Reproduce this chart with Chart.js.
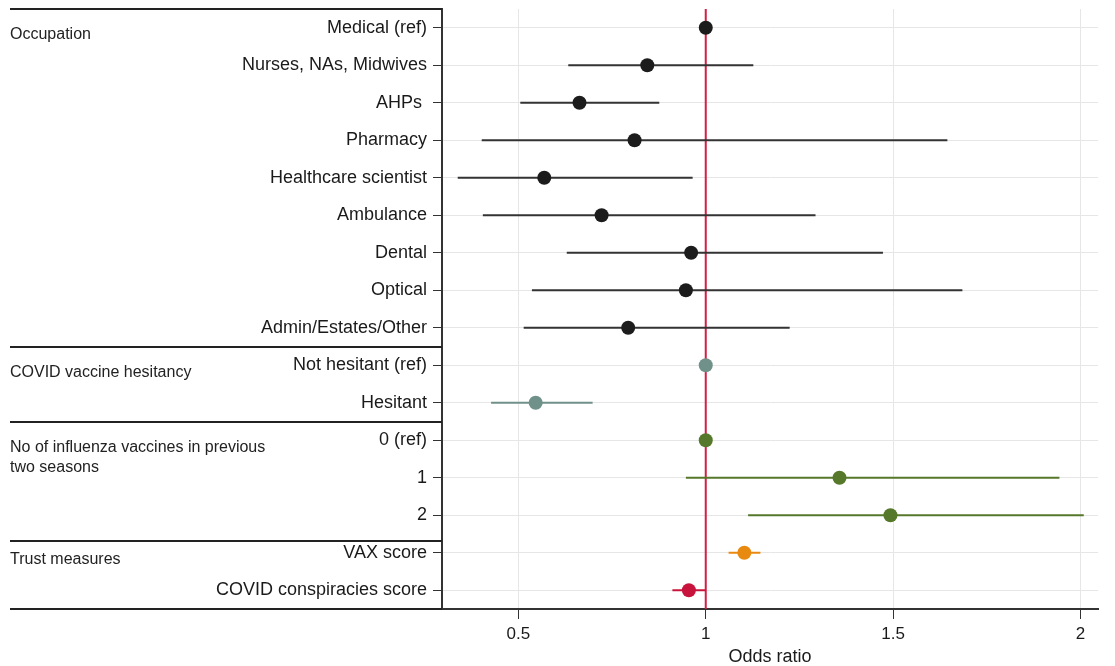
<!DOCTYPE html>
<html>
<head>
<meta charset="utf-8">
<script src="https://cdn.jsdelivr.net/npm/chart.js@4.4.1/dist/chart.umd.min.js"></script>
<style>
    body { margin: 0; background: #fff; }
    #wrap { width: 1115px; height: 666px; position: relative; }
</style>
</head>
<body>
<div id="wrap"><canvas id="myChart"></canvas></div>
<script>
// Filas del gráfico (de arriba hacia abajo)
const rowLabels = [
    'Medical (ref)', 'Nurses, NAs, Midwives', 'AHPs ', 'Pharmacy', 'Healthcare scientist',
    'Ambulance', 'Dental', 'Optical', 'Admin/Estates/Other',
    'Not hesitant (ref)', 'Hesitant',
    '0 (ref)', '1', '2',
    'VAX score', 'COVID conspiracies score'
];
const oddsRatio = [1, 0.844, 0.663, 0.81, 0.569, 0.722, 0.961, 0.947, 0.793, 1, 0.546, 1, 1.357, 1.493, 1.103, 0.955];
const ciLow = [null, 0.633, 0.505, 0.402, 0.338, 0.405, 0.629, 0.536, 0.514, null, 0.427, null, 0.947, 1.113, 1.061, 0.911];
const ciHigh = [null, 1.127, 0.876, 1.645, 0.965, 1.293, 1.473, 1.685, 1.224, null, 0.698, null, 1.944, 2.009, 1.146, 1.0];
const rowSeries = ['occ', 'occ', 'occ', 'occ', 'occ', 'occ', 'occ', 'occ', 'occ', 'hes', 'hes', 'flu', 'flu', 'flu', 'vax', 'consp'];
const xTicks = [0.5, 1, 1.5, 2];
const refValue = 1;

// Grupos de la columna izquierda
const groupTitles = [
    ['Occupation'],
    ['COVID vaccine hesitancy'],
    ['No of influenza vaccines in previous', 'two seasons'],
    ['Trust measures']
];
const groupFirstRow = [0, 9, 11, 14];

// Estilos
const seriesColor = { occ: '#1c1c1c', hes: '#6f9189', flu: '#56782a', vax: '#e98a10', consp: '#c8143c' };
const lineColor = { occ: '#333333', hes: '#6f9189', flu: '#56782a', vax: '#e98a10', consp: '#c8143c' };
const FONT = "'Liberation Sans', Arial, Helvetica, sans-serif";
const separatorValues = [-0.5, 8.5, 10.5, 13.68, 15.5];

const datasets = [];
Object.keys(seriesColor).forEach(key => {
    const ciData = [];
    const ptData = [];
    rowLabels.forEach((_, i) => {
        if (rowSeries[i] !== key) return;
        ptData.push({ x: oddsRatio[i], y: i });
        if (ciLow[i] !== null) {
            ciData.push({ x: ciLow[i], y: i }, { x: ciHigh[i], y: i }, { x: null, y: null });
        }
    });
    datasets.push({
        data: ciData, showLine: true, spanGaps: false, borderColor: lineColor[key],
        borderWidth: 2, pointRadius: 0, order: 2
    });
    datasets.push({
        data: ptData, showLine: false, pointRadius: 7, pointBorderWidth: 0,
        pointBackgroundColor: seriesColor[key], order: 0
    });
});

// Línea de referencia en OR = 1
datasets.push({
    data: [{ x: refValue, y: -0.5 }, { x: refValue, y: rowLabels.length - 0.5 }],
    showLine: true, borderColor: '#d21f45', borderWidth: 2, pointRadius: 0, order: 3
});

// Separadores y títulos de grupo
const groupsPlugin = {
    id: 'groups',
    afterDraw(chart) {
        const ctx = chart.ctx;
        const y = chart.scales.y;
        const left = chart.chartArea.left;
        ctx.save();
        ctx.strokeStyle = '#222';
        ctx.lineWidth = 2;
        separatorValues.forEach(v => {
            const py = Math.round(y.getPixelForValue(v));
            ctx.beginPath();
            ctx.moveTo(10, py);
            ctx.lineTo(left, py);
            ctx.stroke();
        });
        ctx.fillStyle = '#222';
        ctx.font = '16px ' + FONT;
        ctx.textAlign = 'left';
        ctx.textBaseline = 'middle';
        groupTitles.forEach((lines, g) => {
            const py = y.getPixelForValue(groupFirstRow[g]) + 7;
            lines.forEach((t, k) => ctx.fillText(t, 10, py + k * 20));
        });
        ctx.restore();
    }
};

const ctx = document.getElementById('myChart').getContext('2d');
new Chart(ctx, {
    type: 'scatter',
    data: { datasets: datasets },
    plugins: [groupsPlugin],
    options: {
        responsive: true,
        maintainAspectRatio: false,
        animation: false,
        events: [],
        layout: { padding: { top: 9, right: 17, bottom: 0, left: 0 } },
        plugins: { legend: { display: false }, tooltip: { enabled: false } },
        scales: {
            x: {
                type: 'linear',
                min: 0.296,
                max: 2.047,
                afterBuildTicks: s => { s.ticks = xTicks.map(v => ({ value: v })); },
                afterFit: s => { s.height = 57; s.paddingLeft = 0; s.paddingRight = 0; },
                ticks: {
                    callback: v => String(v),
                    font: { family: FONT, size: 17 },
                    color: '#1a1a1a',
                    padding: 5,
                    maxRotation: 0,
                    autoSkip: false
                },
                grid: { color: '#e6e6e6', tickColor: '#333', tickLength: 10 },
                border: { color: '#333', width: 2 },
                title: {
                    display: true,
                    text: 'Odds ratio',
                    font: { family: FONT, size: 18, lineHeight: 1 },
                    color: '#1a1a1a',
                    padding: { top: 0, bottom: 0 }
                }
            },
            y: {
                type: 'linear',
                reverse: true,
                min: -0.5,
                max: rowLabels.length - 0.5,
                afterBuildTicks: s => { s.ticks = rowLabels.map((_, i) => ({ value: i })); },
                afterFit: s => { s.width = 442; s.paddingTop = 0; s.paddingBottom = 0; },
                ticks: {
                    callback: v => rowLabels[v],
                    font: { family: FONT, size: 18 },
                    color: '#1a1a1a',
                    padding: 6,
                    autoSkip: false
                },
                grid: { color: '#e6e6e6', tickColor: '#333', tickLength: 9 },
                border: { color: '#333', width: 2 }
            }
        }
    }
});
</script>
</body>
</html>
